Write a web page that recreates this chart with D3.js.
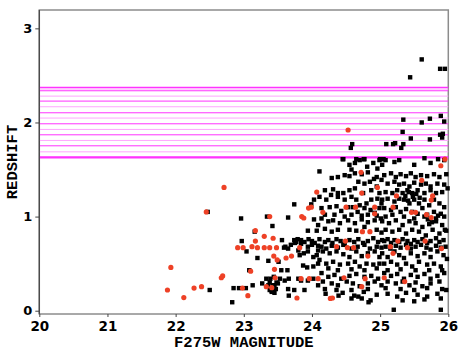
<!DOCTYPE html>
<html>
<head>
<meta charset="utf-8">
<script src="https://cdn.jsdelivr.net/npm/d3@7"></script>
<style>
  body { margin: 0; background: #fff; }
  #main svg { display: block; }
</style>
</head>
<body>
<div id="main"></div>
<script>
// redshift bins drawn as horizontal lines
const binLines = [2.372, 2.355, 2.337, 2.280, 2.227, 2.167, 2.103, 2.047, 1.986,
                  1.926, 1.869, 1.809, 1.752, 1.688, 1.636, 1.625];

const xTicks = [20, 21, 22, 23, 24, 25, 26];
const yTicks = [0, 1, 2, 3];

// black squares, grouped by magnitude strip  [mag, z]
const blackBright = [
  [22.47,1.05],[22.50,0.22],[22.83,0.09],[22.85,0.24],[22.93,0.24],[22.96,0.98],[22.97,0.74],
  [23.03,0.24],[23.04,0.63],[23.08,0.43],[23.13,0.27],[23.16,0.84],[23.20,0.56],[23.34,1.00],
  [23.42,0.90],[23.36,0.53],[23.41,0.21],[23.45,0.19],[23.43,0.27],[23.48,0.30],[23.38,0.30],
  [23.47,0.23],[23.44,0.36]
];
const blackMid = [
  [23.74,1.13],[24.03,1.18],[23.99,1.13],[23.65,0.99],[23.94,0.85],[24.07,0.85],[24.09,0.91],
  [24.03,0.97],[23.56,0.75],[23.74,0.75],[23.77,0.73],[23.79,0.76],[23.75,0.72],[23.84,0.75],
  [23.89,0.73],[23.95,0.76],[24.00,0.74],[24.04,0.72],[23.61,0.68],[23.65,0.66],[23.69,0.70],
  [23.59,0.67],[23.80,0.64],[23.82,0.59],[23.88,0.61],[23.94,0.63],[24.02,0.57],[24.09,0.64],
  [24.07,0.59],[23.84,0.71],[23.94,0.68],[24.00,0.70],[24.09,0.69],[23.87,0.48],[23.93,0.46],
  [24.02,0.47],[24.09,0.50],[23.51,0.52],[23.55,0.43],[23.64,0.43],[23.33,0.34],[23.39,0.34],
  [23.53,0.34],[23.60,0.32],[23.66,0.34],[23.80,0.34],[23.84,0.32],[23.94,0.32],[24.02,0.34],
  [23.27,0.29],[23.36,0.27],[23.38,0.22],[23.45,0.27],[23.41,0.20],[23.65,0.23],[23.74,0.22],
  [23.89,0.22],[23.50,0.29],[24.09,0.27],[23.66,0.16]
];
const blackFaint1 = [
  [24.46,1.61],[24.55,1.55],[24.63,1.57],[24.70,1.60],[24.77,1.61],[24.58,1.50],[24.81,1.53],
  [24.90,1.57],[24.99,1.60],[24.96,1.51],[24.11,1.48],
  [24.29,1.41],[24.38,1.42],[24.48,1.44],[24.55,1.43],[24.63,1.46],[24.73,1.45],[24.82,1.47],
  [24.91,1.40],[24.95,1.42],[25.02,1.39],[24.68,1.37],[24.77,1.35],[24.85,1.37],[24.19,1.28],
  [24.31,1.29],[24.38,1.25],[24.46,1.25],[24.55,1.28],[24.63,1.30],[24.75,1.25],[24.87,1.28],
  [24.95,1.32],[24.99,1.25],
  [24.11,1.21],[24.21,1.18],[24.28,1.23],[24.38,1.21],[24.48,1.18],[24.58,1.21],[24.65,1.18],
  [24.70,1.12],[24.80,1.14],[24.87,1.18],[24.96,1.19],[25.02,1.14],[24.14,1.09],[24.26,1.10],
  [24.36,1.11],[24.43,1.06],[24.53,1.10],[24.60,1.10],[24.67,1.05],[24.77,1.09],[24.86,1.07],
  [24.92,1.04],[24.99,1.09],[24.19,1.02],[24.33,1.02],[24.48,1.00],[24.58,1.02],[24.73,1.01],
  [24.82,1.02],[24.95,1.01],
  [24.14,0.98],[24.24,0.95],[24.31,0.96],[24.41,0.93],[24.53,0.96],[24.63,0.93],[24.73,0.97],
  [24.82,0.94],[24.92,0.96],[25.01,0.98],[24.19,0.87],[24.29,0.84],[24.38,0.86],[24.55,0.86],
  [24.65,0.85],[24.77,0.89],[24.95,0.86],[25.02,0.83]
];
const blackFaint2 = [
  [24.11,0.76],[24.19,0.73],[24.24,0.75],[24.30,0.72],[24.36,0.76],[24.42,0.74],[24.48,0.71],
  [24.55,0.75],[24.62,0.73],[24.68,0.76],[24.75,0.72],[24.82,0.74],[24.90,0.77],[24.97,0.73],
  [25.03,0.75],[24.14,0.68],[24.21,0.66],[24.29,0.69],[24.38,0.67],[24.46,0.70],[24.58,0.66],
  [24.67,0.68],[24.77,0.70],[24.85,0.66],[24.95,0.68],[25.02,0.67],
  [24.16,0.63],[24.26,0.61],[24.36,0.63],[24.46,0.60],[24.55,0.57],[24.65,0.63],[24.73,0.58],
  [24.82,0.61],[24.92,0.63],[24.99,0.57],[24.11,0.54],[24.21,0.50],[24.31,0.52],[24.41,0.49],
  [24.53,0.50],[24.63,0.52],[24.70,0.47],[24.80,0.50],[24.90,0.49],[24.99,0.50],[24.24,0.45],
  [24.38,0.43],[24.58,0.44],[24.77,0.43],[24.95,0.45],
  [24.14,0.40],[24.24,0.36],[24.33,0.38],[24.43,0.34],[24.55,0.37],[24.65,0.39],[24.77,0.36],
  [24.87,0.37],[24.97,0.34],[24.16,0.31],[24.29,0.29],[24.38,0.27],[24.51,0.31],[24.60,0.29],
  [24.70,0.26],[24.82,0.29],[24.92,0.31],[25.02,0.27],[24.19,0.23],[24.36,0.22],[24.58,0.22],
  [24.82,0.23],
  [24.39,0.16],[24.58,0.13],[24.62,0.16],[24.68,0.15],[24.73,0.13],[24.83,0.09],[24.86,0.11],
  [24.20,0.18],[24.45,0.19],[24.95,0.17],[24.76,0.20]
];
const blackFaintest1 = [
  [25.08,1.60],[25.21,1.58],[25.28,1.60],[25.65,1.62],[25.74,1.57],[25.94,1.60],[25.03,1.55],
  [25.50,1.55],[25.97,1.45],[25.99,1.30],
  [25.06,1.44],[25.16,1.46],[25.23,1.42],[25.30,1.45],[25.38,1.43],[25.45,1.46],[25.52,1.42],
  [25.60,1.44],[25.69,1.43],[25.79,1.45],[25.87,1.42],[25.11,1.35],[25.21,1.37],[25.28,1.34],
  [25.35,1.35],[25.43,1.32],[25.50,1.36],[25.60,1.34],[25.67,1.35],[25.74,1.32],[25.84,1.35],
  [25.94,1.34],[25.08,1.26],[25.18,1.25],[25.25,1.28],[25.33,1.25],[25.40,1.28],[25.47,1.25],
  [25.55,1.28],[25.65,1.25],[25.74,1.28],[25.82,1.25],[25.91,1.26],
  [25.37,1.22],[25.42,1.26],[25.48,1.21],[25.53,1.24],[25.41,1.17],[25.58,1.20],
  [25.03,1.18],[25.11,1.19],[25.21,1.16],[25.28,1.19],[25.35,1.18],[25.43,1.14],[25.50,1.18],
  [25.57,1.14],[25.65,1.18],[25.72,1.12],[25.79,1.18],[25.87,1.14],[25.94,1.10],[25.06,1.09],
  [25.16,1.07],[25.23,1.10],[25.30,1.05],[25.38,1.08],[25.47,1.05],[25.55,1.03],[25.62,1.09],
  [25.69,1.02],[25.79,1.05],[25.89,1.03],[25.08,1.00],[25.18,1.02],[25.35,1.00],[25.50,0.98],
  [25.65,1.00],[25.82,0.98],[25.94,1.00],[25.70,0.97],[25.76,0.94],[25.85,1.01],
  [25.03,0.95],[25.13,0.93],[25.23,0.96],[25.33,0.91],[25.43,0.95],[25.52,0.93],[25.62,0.89],
  [25.72,0.92],[25.82,0.95],[25.91,0.91],[25.08,0.86],[25.18,0.84],[25.28,0.86],[25.38,0.82],
  [25.47,0.86],[25.57,0.84],[25.67,0.80],[25.77,0.86],[25.87,0.82],[25.95,0.86],[25.97,0.85]
];
const blackFaintest2 = [
  [25.06,0.74],[25.11,0.76],[25.16,0.72],[25.21,0.75],[25.28,0.73],[25.33,0.76],[25.40,0.74],
  [25.45,0.71],[25.50,0.75],[25.55,0.73],[25.62,0.76],[25.69,0.72],[25.74,0.74],[25.82,0.77],
  [25.87,0.73],[25.93,0.75],[25.08,0.68],[25.15,0.66],[25.23,0.69],[25.30,0.67],[25.38,0.70],
  [25.45,0.66],[25.52,0.68],[25.60,0.70],[25.68,0.67],[25.74,0.65],[25.82,0.69],[25.89,0.67],
  [25.96,0.68],
  [25.03,0.61],[25.11,0.57],[25.21,0.63],[25.28,0.59],[25.35,0.56],[25.45,0.61],[25.55,0.58],
  [25.65,0.61],[25.74,0.57],[25.84,0.63],[25.93,0.59],[25.06,0.50],[25.16,0.52],[25.25,0.49],
  [25.38,0.50],[25.47,0.47],[25.57,0.52],[25.69,0.49],[25.79,0.50],[25.89,0.47],[25.11,0.43],
  [25.30,0.44],[25.52,0.43],[25.72,0.43],[25.91,0.43],[25.98,0.55],
  [25.06,0.40],[25.16,0.37],[25.25,0.39],[25.35,0.34],[25.45,0.38],[25.55,0.36],[25.65,0.39],
  [25.74,0.34],[25.84,0.37],[25.94,0.40],[25.11,0.31],[25.23,0.29],[25.33,0.31],[25.43,0.27],
  [25.52,0.30],[25.62,0.26],[25.74,0.29],[25.87,0.31],[25.08,0.24],[25.30,0.23],[25.50,0.22],
  [25.69,0.24],[25.91,0.23],[25.97,0.22],
  [25.11,0.18],[25.25,0.15],[25.38,0.19],[25.55,0.17],[25.69,0.15],[25.84,0.18],[25.33,0.11],
  [25.50,0.10],[25.65,0.12],[25.89,0.13],[25.20,0.01],[25.89,0.01]
];
const blackHighZ = [
  [25.61,2.67],[25.88,2.57],[25.95,2.57],[25.44,2.48],[25.34,2.03],[25.73,2.04],[25.89,2.07],
  [25.94,2.01],[25.61,2.00],[25.33,1.90],[25.45,1.83],[25.73,1.82],[25.88,1.87],[25.92,1.88],
  [25.91,1.84],[25.09,1.77],[25.19,1.77],[25.22,1.78],[25.34,1.77],[25.31,1.73],[24.59,1.77],
  [24.57,1.73],[24.45,1.61],[24.65,1.61],[24.76,1.61],[25.00,1.61],[25.05,1.61],[25.85,1.61]
];

// red circles [mag, z]
const redPts = [
  [21.88,0.22],[21.93,0.46],[22.12,0.14],[22.27,0.24],[22.38,0.255],[22.45,1.05],[22.67,0.35],
  [22.69,0.37],[22.71,1.31],[22.91,0.67],[22.99,0.67],[22.98,0.24],[23.06,0.16],[23.10,0.42],
  [23.12,0.68],[23.17,0.74],[23.17,0.85],[23.20,0.67],[23.30,0.67],[23.30,0.79],[23.33,0.255],
  [23.38,0.67],[23.38,1.00],[23.41,0.245],[23.43,0.77],[23.44,0.58],[23.45,0.44],[23.46,0.35],
  [23.48,0.67],[23.49,0.54],[23.62,0.56],[23.70,0.58],[23.78,0.135],[23.82,0.67],[23.84,0.34],
  [23.85,1.00],[23.88,0.985],[23.95,1.09],[23.96,0.34],[23.99,1.10],[24.07,1.26],[24.09,0.34],
  [24.16,1.045],[24.27,0.13],[24.30,0.135],[24.36,0.68],[24.47,0.35],[24.50,1.10],[24.49,0.74],
  [24.52,0.67],[24.53,1.92],[24.61,0.67],[24.64,1.10],[24.72,1.47],[24.73,1.25],[24.74,0.84],
  [24.73,0.255],[24.78,0.34],[24.82,0.58],[24.85,0.84],[24.92,1.10],[24.92,1.03],[24.96,1.31],
  [25.06,0.35],[25.15,0.68],[25.19,1.10],[25.19,0.61],[25.24,1.22],[25.26,0.74],[25.36,0.31],
  [25.40,0.67],[25.46,1.045],[25.52,1.045],[25.61,1.385],[25.66,0.74],[25.68,1.02],[25.75,0.99],
  [25.77,1.22],[25.75,1.175],[25.89,1.54],[25.90,0.66],[25.95,1.61]
];

const ctx = {
    w: 461,
    h: 358,
    left: 39.3,
    right: 448.3,
    top: 10,
    bottom: 314,
    SQ: 4.4,
    DOT_R: 2.6,
};

function createViz(){
    const svg = d3.select("#main").append("svg")
        .attr("width", ctx.w)
        .attr("height", ctx.h);

    const x = d3.scaleLinear().domain([20, 26]).range([ctx.left, ctx.right]);
    const y = d3.scaleLinear().domain([-0.035, 3.195]).range([ctx.bottom, ctx.top]);

    // frame
    svg.append("rect")
        .attr("x", ctx.left).attr("y", ctx.top)
        .attr("width", ctx.right - ctx.left).attr("height", ctx.bottom - ctx.top)
        .attr("fill", "none").attr("stroke", "#8c8c8c").attr("stroke-width", 1.5);

    // redshift bin lines
    svg.append("g").selectAll("line")
        .data(binLines)
        .enter().append("line")
        .attr("x1", ctx.left).attr("x2", ctx.right)
        .attr("y1", d => y(d)).attr("y2", d => y(d))
        .attr("stroke", (d, i) => (i % 2 == 0 || i == binLines.length - 1) ? "#ff33ff" : "#ffa6ff")
        .attr("stroke-width", (d, i) => (i == 0 || i == binLines.length - 1) ? 1.4 : 1);

    // points
    const black = [].concat(blackBright, blackMid, blackFaint1, blackFaint2,
                            blackFaintest1, blackFaintest2, blackHighZ);
    svg.append("g").selectAll("rect")
        .data(black)
        .enter().append("rect")
        .attr("x", d => x(d[0]) - ctx.SQ / 2)
        .attr("y", d => y(d[1]) - ctx.SQ / 2)
        .attr("width", ctx.SQ).attr("height", ctx.SQ)
        .attr("fill", "#000");

    svg.append("g").selectAll("circle")
        .data(redPts)
        .enter().append("circle")
        .attr("cx", d => x(d[0]))
        .attr("cy", d => y(d[1]))
        .attr("r", ctx.DOT_R)
        .attr("fill", "#ee4126");

    // axes
    const yAxis = svg.append("g")
        .attr("transform", `translate(${ctx.left},0)`)
        .call(d3.axisLeft(y).tickValues(yTicks).tickSize(4).tickPadding(3).tickFormat(d3.format("d")));
    yAxis.select(".domain").remove();
    yAxis.append("line")
        .attr("y1", ctx.top).attr("y2", ctx.bottom)
        .attr("stroke", "#444").attr("stroke-width", 1.2);
    yAxis.selectAll(".tick line").attr("stroke", "#444");
    yAxis.selectAll(".tick text")
        .attr("fill", "#000")
        .style("font", "bold 13px 'DejaVu Sans'");

    const xAxis = svg.append("g")
        .attr("transform", `translate(0,${ctx.bottom})`)
        .call(d3.axisBottom(x).tickValues(xTicks).tickSize(3).tickPadding(4).tickFormat(d3.format("d")));
    xAxis.select(".domain").remove();
    xAxis.selectAll(".tick line").attr("stroke", "#444");
    xAxis.selectAll(".tick text")
        .attr("fill", "#000")
        .style("font", "bold 13.5px 'DejaVu Sans'");

    // titles
    svg.append("text")
        .attr("x", (ctx.left + ctx.right) / 2)
        .attr("y", 347)
        .attr("text-anchor", "middle")
        .style("font", "bold 15.5px 'Liberation Mono'")
        .text("F275W MAGNITUDE");

    svg.append("text")
        .attr("transform", `translate(17,${(ctx.top + ctx.bottom) / 2}) rotate(-90)`)
        .attr("text-anchor", "middle")
        .style("font", "bold 15.5px 'Liberation Mono'")
        .text("REDSHIFT");
}

createViz();
</script>
</body>
</html>
